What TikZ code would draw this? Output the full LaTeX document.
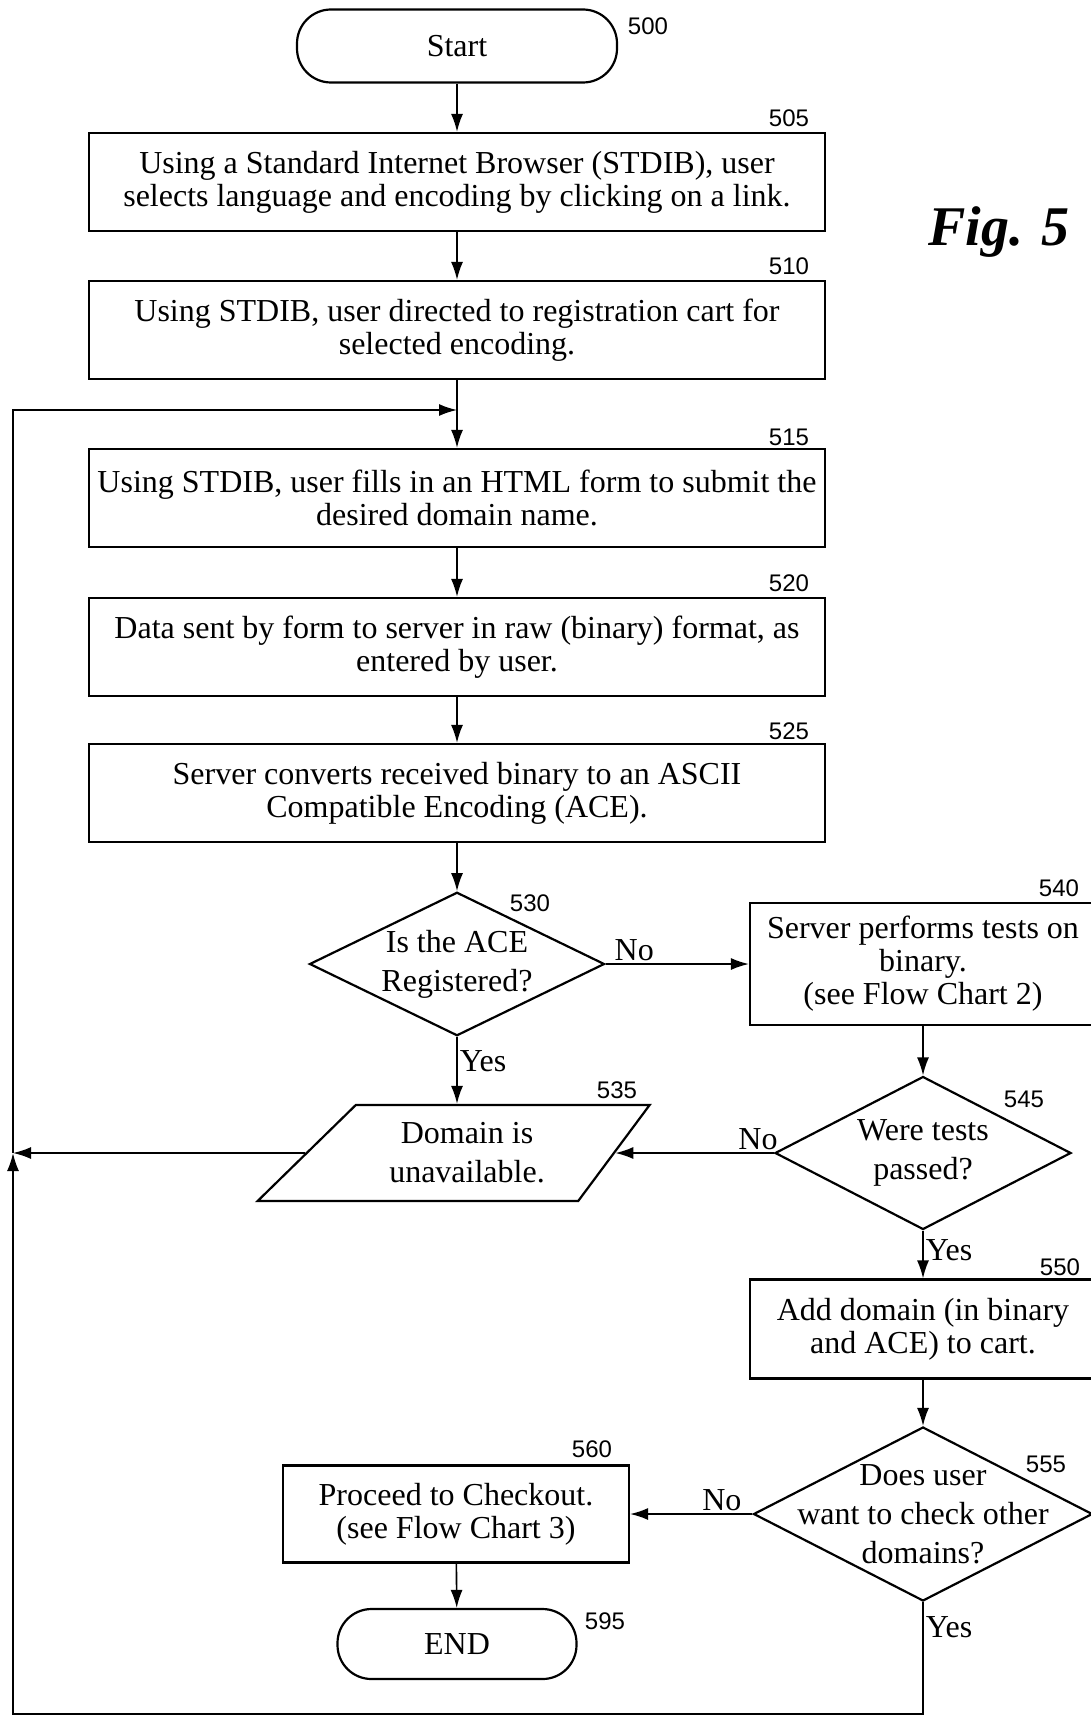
\documentclass[tikz,border=0pt]{standalone}
\usepackage{fontspec}
\setmainfont{Liberation Serif}
\newfontfamily\numfont{Liberation Sans}
\usetikzlibrary{shapes.geometric, arrows.meta, positioning}

\begin{document}
\begin{tikzpicture}[x=0.5pt, y=-0.5pt,
  >={Latex[length=9pt,width=6pt]},
  box/.style={draw, line width=1.1pt, align=center, inner sep=1pt,
    minimum width=368pt, minimum height=49pt, font=\fontsize{16}{16.5}\selectfont},
  term/.style={draw, line width=1.1pt, rounded corners=17pt, font=\fontsize{16}{16.5}\selectfont},
  dec/.style={diamond, draw, line width=1.1pt, align=center, aspect=2, inner sep=-14pt,
    font=\fontsize{16}{19.5}\selectfont},
  io/.style={trapezium, trapezium left angle=37, trapezium right angle=134,
    trapezium stretches body, draw, line width=1.1pt, align=center,
    font=\fontsize{16}{19.5}\selectfont},
  num/.style={font=\numfont\fontsize{12}{12}\selectfont},
  lbl/.style={font=\fontsize{16}{16}\selectfont, inner sep=1pt},
  link/.style={line width=0.8pt}
]
\useasboundingbox (0,0) rectangle (1091,1718);

\node[term, minimum width=160pt, minimum height=36.5pt] (start) at (457,46) {Start};
\node[box] (s505) at (457,182) {Using a Standard Internet Browser (STDIB), user\\selects language and encoding by clicking on a link.};
\node[box] (s510) at (457,330) {Using STDIB, user directed to registration cart for\\selected encoding.};
\node[box] (s515) at (457,498) {Using STDIB, user fills in an HTML form to submit the\\desired domain name.};
\node[box] (s520) at (457,647) {Data sent by form to server in raw (binary) format, as\\entered by user.};
\node[box] (s525) at (457,793) {Server converts received binary to an ASCII\\Compatible Encoding (ACE).};
\node[dec, minimum width=147.5pt, minimum height=71.75pt] (q530) at (457,964) {Is the ACE\\Registered?};
\node[box, minimum width=173pt, minimum height=61pt] (s540) at (923,964) {Server performs tests on\\binary.\\(see Flow Chart 2)};
\node[io, minimum width=196pt, minimum height=48pt] (dom) at (467,1153) {Domain is\\unavailable.};
\node[dec, minimum width=148pt, minimum height=76.5pt] (q545) at (923,1153) {Were tests\\passed?};
\node[box, minimum width=173pt, minimum height=49.5pt] (s550) at (923,1329) {Add domain (in binary\\and ACE) to cart.};
\node[dec, minimum width=169.5pt, minimum height=87pt] (q555) at (923,1514) {Does user\\want to check other\\domains?};
\node[box, minimum width=173pt, minimum height=48.5pt] (s560) at (456,1514) {Proceed to Checkout.\\(see Flow Chart 3)};
\node[term, minimum width=119.5pt, minimum height=35pt] (fin) at (457,1644) {END};

% reference numerals
\node[num] (n500) at (648,26) {500};
\node[num] (n505) at (789,118) {505};
\node[num] (n510) at (789,266) {510};
\node[num] (n515) at (789,437) {515};
\node[num] (n520) at (789,583) {520};
\node[num] (n525) at (789,731) {525};
\node[num] (n530) at (530,903) {530};
\node[num] (n540) at (1059,888) {540};
\node[num] (n535) at (617,1090) {535};
\node[num] (n545) at (1024,1099) {545};
\node[num] (n550) at (1060,1267) {550};
\node[num] (n555) at (1046,1464) {555};
\node[num] (n560) at (592,1449) {560};
\node[num] (n595) at (605,1621) {595};

\node[font=\fontsize{28}{28}\selectfont\bfseries\itshape] (fig) at (999,232) {Fig. 5};

\coordinate (jn) at (457,410);
\coordinate (tl) at (13,410);
\coordinate (ml) at (13,1153);
\coordinate (bl) at (13,1714);

\draw[link,->] (start) -- (s505);
\draw[link,->] (s505) -- (s510);
\draw[link,->] (s510) -- (s515);
\draw[link,->] (s515) -- (s520);
\draw[link,->] (s520) -- (s525);
\draw[link,->] (s525) -- (q530);
\draw[link,->] (q530.east) -- (s540.west) node[lbl, pos=0.2, above] {No};
\draw[link,->] (q530) -- (q530 |- dom.north) node[lbl, pos=0.36, right] {Yes};
\draw[link,->] (s540) -- (q545);
\draw[link,->] (q545.west) -- (dom) node[lbl, pos=0.1, above] {No};
\draw[link,->] (q545) -- (s550) node[lbl, pos=0.4, right] {Yes};
\draw[link,->] (s550) -- (q555);
\draw[link,->] (q555.west) -- (s560.east) node[lbl, pos=0.25, above] {No};
\draw[link,->] (s560) -- (fin);
\draw[link,->] (dom.west) -- (ml);
\draw[link,->] (q555.south) -- (q555.south |- bl) node[lbl, pos=0.22, right] {Yes} -- (bl) -- (ml);
\draw[link,->] (ml) -- (tl) -- (jn);
\end{tikzpicture}
\end{document}
